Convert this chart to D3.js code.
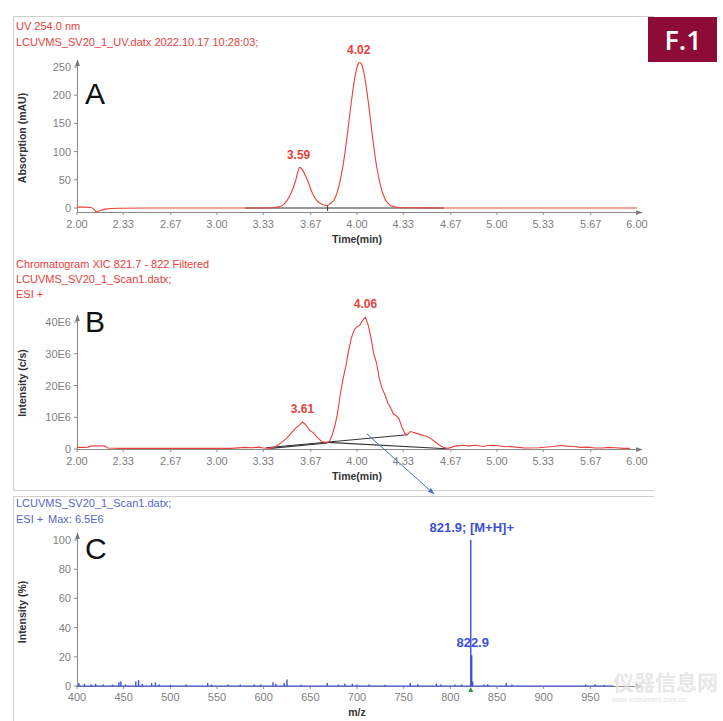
<!DOCTYPE html>
<html><head><meta charset="utf-8">
<script src="https://cdn.jsdelivr.net/npm/d3@7"></script>
<style>
html,body{margin:0;padding:0;background:#fff;}
svg{display:block;font-family:"Liberation Sans",Arial,sans-serif;}
</style></head>
<body>
<svg id="c" width="723" height="721"></svg>
<script>
// ---------- DATA ----------
const timeTicks = [2.00, 2.33, 2.67, 3.00, 3.33, 3.67, 4.00, 4.33, 4.67, 5.00, 5.33, 5.67, 6.00];
const uvTicks = [0, 50, 100, 150, 200, 250];
const xicTicks = [0, 10e6, 20e6, 30e6, 40e6];
const xicTickLabels = ["0", "10E6", "20E6", "30E6", "40E6"];
const mzTicks = [400, 450, 500, 550, 600, 650, 700, 750, 800, 850, 900, 950];
const pctTicks = [0, 20, 40, 60, 80, 100];

// Panel A: UV 254 nm trace (time min, mAU)
const uvTime = [2.00,2.05,2.10,2.12,2.14,2.16,2.20,2.30,2.50,3.00,3.30,3.40,3.44,3.47,3.50,3.53,3.56,3.58,3.59,3.61,3.63,3.65,3.68,3.71,3.74,3.77,3.79,3.81,3.84,3.87,3.90,3.93,3.96,3.99,4.01,4.02,4.03,4.05,4.08,4.11,4.14,4.17,4.20,4.23,4.26,4.30,4.36,4.45,4.60,5.00,5.50,6.00];
const uvValue = [1.5,1.5,1.0,-2,-7,-5,-2,-0.5,0,0,0,0.5,2,5,13,27,47,66,72,68,58,47,27,14,8,5,4.5,8,16,38,75,128,189,239,256,258,256,239,189,128,74,38,16,6.5,2.5,1,0.5,0.3,0,0,0,0];
const uvPeaks = [{t:3.59, v:72, label:"3.59"}, {t:4.02, v:258, label:"4.02"}];
const uvBaseline = [[3.20, 0], [4.62, 0]];

// Panel B: XIC 821.7 - 822 (time min, counts/s)
const xicTime = [2.00,2.05,2.08,2.10,2.15,2.20,2.22,2.30,2.50,2.80,3.10,3.20,3.25,3.30,3.33,3.38,3.42,3.46,3.50,3.53,3.56,3.59,3.61,3.63,3.66,3.69,3.72,3.75,3.78,3.80,3.82,3.84,3.86,3.88,3.90,3.92,3.94,3.96,3.98,4.00,4.02,4.04,4.06,4.08,4.10,4.12,4.14,4.16,4.18,4.20,4.22,4.24,4.26,4.28,4.30,4.32,4.34,4.36,4.38,4.40,4.42,4.45,4.48,4.50,4.53,4.56,4.59,4.62,4.65,4.70,4.75,4.80,4.85,4.90,4.95,5.00,5.05,5.10,5.15,5.20,5.30,5.40,5.45,5.50,5.55,5.60,5.65,5.70,5.75,5.80,5.85,5.90,5.95];
const xicValue = [0.5,0.5,0.6,0.9,1.0,0.9,0.3,0.2,0.2,0.2,0.2,0.5,0.4,0.6,0.3,0.2,0.8,2.0,3.5,5.0,6.5,7.6,8.5,7.8,6.0,5.0,3.5,2.3,2.0,2.2,4,7,11,17,22,26,31,35,37.5,38.5,39,40.5,41.5,39,35,30,27,22,19,17,14.5,13,11,10.5,9.5,7,5,4.5,5.5,5.3,5.0,4.6,4.2,4.0,3.2,2.2,1.2,0.5,0.2,0.9,1.2,1.0,1.2,0.8,1.2,1.1,0.7,0.8,0.5,0.3,0.4,0.8,1.1,0.9,0.8,0.5,0.6,0.3,0.3,0.5,0.4,0.2,0.2].map(v => v * 1e6);
const xicPeaks = [{t:3.61, v:8.5e6, label:"3.61"}, {t:4.06, v:41.5e6, label:"4.06"}];
const xicBaselines = [
  [[3.35, 0.4e6], [4.36, 4.5e6]],
  [[3.79, 2.1e6], [4.64, 0.1e6]],
  [[3.38, 0.2e6], [3.79, 1.9e6]]
];

// Panel C: mass spectrum (m/z, relative intensity %)
const mz = [402,408,415,420,428,438,445,447,452,463,466,470,480,484,488,500,517,540,544,562,575,590,597,610,613,622,625,640,668,680,687,695,700,713,730,757,765,785,790,805,812,821.9,822.9,823.9,836,840,860,866,945,955,965];
const intensity = [2,1.5,1,1.5,1,1,2.5,3,1,3,4,1.5,2,2.5,1,0.8,1,2,1,1,1,1,1,2.5,1.5,2,4.5,0.8,2,1,1.5,1.5,1,1,0.8,2,1.2,1.5,1,1,1,100,21,3,1,1.2,2,1,1,1.2,0.8];
const msLabels = [{mz:821.9, v:100, label:"821.9; [M+H]+"}, {mz:822.9, v:21, label:"822.9"}];

// ---------- DRAW ----------
const svg = d3.select("#c");
const red = "#e8413c", blue = "#3d4fd6", axisCol = "#8a8a8a", tickTxt = "#808080";

// frames
const frame = svg.append("g").attr("stroke", "#cfcfcf").attr("fill", "none").attr("stroke-width", 1);
frame.append("path").attr("d", "M13.5,490.5 V16.5 H654");
frame.append("path").attr("d", "M13.5,490.5 H654");
frame.append("path").attr("d", "M13.5,721 V496.5 H654");

// arrowhead marker
const defs = svg.append("defs");
function marker(id, col) {
  defs.append("marker").attr("id", id).attr("viewBox", "0 0 10 10").attr("refX", 9).attr("refY", 5)
    .attr("markerWidth", 7).attr("markerHeight", 7).attr("orient", "auto")
    .append("path").attr("d", "M0,1.5 L10,5 L0,8.5 Z").attr("fill", col);
}
marker("ax", "#777");
marker("bl", "#4d6fc8");

const xTime = d3.scaleLinear().domain([2, 6]).range([77, 637]);
const xMz = d3.scaleLinear().domain([400, 1000]).range([77, 637]);

function drawAxes(x, y, xTicksArr, xFmt, yTicksArr, yFmt, xAxisY, yTop, labelY, xLabel, yLabel, yLabelCenter) {
  const g = svg.append("g");
  g.append("line").attr("x1", 77).attr("x2", 642).attr("y1", xAxisY + 0.5).attr("y2", xAxisY + 0.5)
    .attr("stroke", axisCol).attr("marker-end", "url(#ax)");
  g.append("line").attr("x1", 77.5).attr("x2", 77.5).attr("y1", xAxisY + 0.5).attr("y2", yTop)
    .attr("stroke", axisCol).attr("marker-end", "url(#ax)");
  xTicksArr.forEach((t, i) => {
    g.append("line").attr("x1", x(t)).attr("x2", x(t)).attr("y1", xAxisY).attr("y2", xAxisY + 3).attr("stroke", axisCol);
    g.append("text").attr("x", x(t)).attr("y", labelY).attr("text-anchor", "middle")
      .attr("font-size", 11).attr("fill", tickTxt).text(xFmt(t, i));
  });
  yTicksArr.forEach((v, i) => {
    g.append("line").attr("x1", 74).attr("x2", 77).attr("y1", y(v)).attr("y2", y(v)).attr("stroke", axisCol);
    g.append("text").attr("x", 71).attr("y", y(v) + 4).attr("text-anchor", "end")
      .attr("font-size", 11).attr("fill", tickTxt).text(yFmt(v, i));
  });
  g.append("text").attr("x", 357).attr("y", labelY + 15).attr("text-anchor", "middle")
    .attr("font-size", 10.5).attr("font-weight", "bold").attr("fill", "#333").text(xLabel);
  g.append("text").attr("transform", `translate(26,${yLabelCenter}) rotate(-90)`).attr("text-anchor", "middle")
    .attr("font-size", 10.5).attr("font-weight", "bold").attr("fill", "#333").text(yLabel);
}

// ----- Panel A -----
const yA = d3.scaleLinear().domain([0, 250]).range([208, 67]);
drawAxes(xTime, yA, timeTicks, t => t.toFixed(2), uvTicks, v => v, 212, 60, 228, "Time(min)", "Absorption (mAU)", 138);
svg.append("line").attr("x1", xTime(uvBaseline[0][0])).attr("x2", xTime(uvBaseline[1][0]))
  .attr("y1", yA(uvBaseline[0][1])).attr("y2", yA(uvBaseline[1][1])).attr("stroke", "#333").attr("stroke-width", 1.2);
svg.append("line").attr("x1", xTime(3.79)).attr("x2", xTime(3.79)).attr("y1", yA(0) - 3).attr("y2", yA(0) + 3).attr("stroke", "#333");
svg.append("path").datum(uvTime.map((t, i) => [t, uvValue[i]]))
  .attr("d", d3.line().curve(d3.curveMonotoneX).x(d => xTime(d[0])).y(d => yA(d[1])))
  .attr("fill", "none").attr("stroke", red).attr("stroke-width", 1.1);
uvPeaks.forEach(p => {
  svg.append("text").attr("x", xTime(p.t) - 1).attr("y", yA(p.v) - 8).attr("text-anchor", "middle")
    .attr("font-size", 12).attr("font-weight", "bold").attr("fill", red).text(p.label);
});
svg.append("text").attr("x", 16).attr("y", 30).attr("font-size", 11).attr("fill", red).text("UV 254.0 nm");
svg.append("text").attr("x", 16).attr("y", 46).attr("font-size", 11).attr("fill", red).text("LCUVMS_SV20_1_UV.datx 2022.10.17 10:28:03;");
svg.append("text").attr("x", 85).attr("y", 104).attr("font-size", 30).attr("fill", "#111").text("A");

// ----- Panel B -----
const yB = d3.scaleLinear().domain([0, 40e6]).range([449, 322]);
drawAxes(xTime, yB, timeTicks, t => t.toFixed(2), xicTicks, (v, i) => xicTickLabels[i], 449, 315, 465, "Time(min)", "Intensity (c/s)", 383);
xicBaselines.forEach(seg => {
  svg.append("line").attr("x1", xTime(seg[0][0])).attr("y1", yB(seg[0][1]))
    .attr("x2", xTime(seg[1][0])).attr("y2", yB(seg[1][1])).attr("stroke", "#333").attr("stroke-width", 1.1);
});
svg.append("path").datum(xicTime.map((t, i) => [t, xicValue[i]]))
  .attr("d", d3.line().x(d => xTime(d[0])).y(d => yB(d[1])))
  .attr("fill", "none").attr("stroke", red).attr("stroke-width", 1.1);
xicPeaks.forEach(p => {
  svg.append("text").attr("x", xTime(p.t)).attr("y", yB(p.v) - 9).attr("text-anchor", "middle")
    .attr("font-size", 12).attr("font-weight", "bold").attr("fill", red).text(p.label);
});
svg.append("text").attr("x", 16).attr("y", 268).attr("font-size", 11).attr("fill", red).text("Chromatogram XIC 821.7 - 822 Filtered");
svg.append("text").attr("x", 16).attr("y", 283).attr("font-size", 11).attr("fill", red).text("LCUVMS_SV20_1_Scan1.datx;");
svg.append("text").attr("x", 16).attr("y", 298).attr("font-size", 11).attr("fill", red).text("ESI +");
svg.append("text").attr("x", 85).attr("y", 332).attr("font-size", 30).attr("fill", "#111").text("B");
svg.append("line").attr("x1", xTime(4.07)).attr("y1", yB(4.8e6)).attr("x2", 434).attr("y2", 494)
  .attr("stroke", "#4d6fc8").attr("stroke-width", 1).attr("marker-end", "url(#bl)");

// ----- Panel C -----
const yC = d3.scaleLinear().domain([0, 100]).range([686, 540]);
drawAxes(xMz, yC, mzTicks, t => t, pctTicks, v => v, 686, 533, 701, "m/z", "Intensity (%)", 612);
svg.append("line").attr("x1", xMz(400)).attr("x2", xMz(975)).attr("y1", yC(0)).attr("y2", yC(0))
  .attr("stroke", blue).attr("stroke-width", 1.2);
svg.append("g").selectAll("line").data(mz.map((m, i) => [m, intensity[i]])).join("line")
  .attr("x1", d => xMz(d[0])).attr("x2", d => xMz(d[0]))
  .attr("y1", yC(0)).attr("y2", d => yC(d[1]))
  .attr("stroke", blue).attr("stroke-width", d => d[1] > 10 ? 1.4 : 1.4);
svg.append("path").attr("d", `M${xMz(821.9)},${yC(0) + 1} l-2.5,5 h5 Z`).attr("fill", "#2a9a3a");
msLabels.forEach(p => {
  svg.append("text").attr("x", xMz(p.mz) + 1).attr("y", yC(p.v) - 8).attr("text-anchor", "middle")
    .attr("font-size", 13).attr("font-weight", "bold").attr("fill", blue).text(p.label);
});
svg.append("text").attr("x", 16).attr("y", 507).attr("font-size", 11).attr("fill", "#5566cc").text("LCUVMS_SV20_1_Scan1.datx;");
svg.append("text").attr("x", 16).attr("y", 523).attr("font-size", 11).attr("fill", "#5566cc").text("ESI +");
svg.append("text").attr("x", 48).attr("y", 523).attr("font-size", 11).attr("fill", "#5566cc").text("Max: 6.5E6");
svg.append("text").attr("x", 85).attr("y", 559).attr("font-size", 30).attr("fill", "#111").text("C");

// ----- F.1 badge -----
svg.append("rect").attr("x", 648).attr("y", 17).attr("width", 69).attr("height", 45).attr("fill", "#8c0c37");
svg.append("text").attr("x", 683).attr("y", 50).attr("text-anchor", "middle").attr("font-size", 27)
  .attr("font-weight", 600).attr("font-family", "'Open Sans',sans-serif").attr("fill", "#fff").text("F.1");

// ----- watermark -----
svg.append("text").attr("x", 613).attr("y", 690).attr("font-size", 21).attr("font-weight", "bold")
  .attr("font-family", "'Noto Sans CJK SC',sans-serif").attr("fill", "#e4e4e4").attr("opacity", 0.85).text("仪器信息网");
svg.append("text").attr("x", 612).attr("y", 702).attr("font-size", 7).attr("fill", "#e4e4e4").text("www.instrument.com.cn");
</script>
</body></html>
